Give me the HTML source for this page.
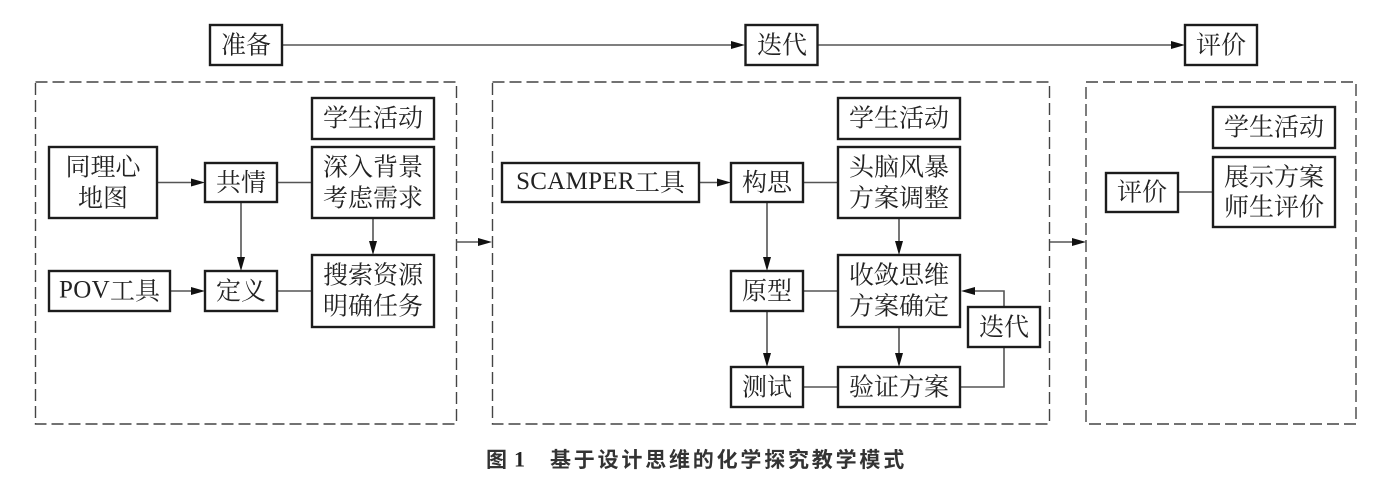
<!DOCTYPE html>
<html lang="zh-CN"><head><meta charset="utf-8"><style>
html,body{margin:0;padding:0;background:#fff;width:1374px;height:490px;overflow:hidden}
svg{display:block}
.b{fill:#fff;stroke:#1c1c1c;stroke-width:2.4}
.l{fill:none;stroke:#555;stroke-width:1.6}
.d{fill:none;stroke:#444;stroke-width:1.4;stroke-dasharray:12 5}
.a{fill:#111}
text{font-family:"Noto Serif CJK SC","Liberation Serif",serif;font-size:25px;fill:#222;text-anchor:middle;dominant-baseline:central;letter-spacing:0;transform:translateY(-1.5px)}
tspan.t{font-family:"Liberation Serif",serif;letter-spacing:.3px}
.c{font-family:"Noto Sans CJK SC","Liberation Sans",sans-serif;font-size:21px;font-weight:bold;fill:#333;text-anchor:start;letter-spacing:2.8px;transform:none}
.n{font-family:"Liberation Serif",serif;font-size:22px;font-weight:bold;fill:#222;text-anchor:start;transform:none}
</style></head><body>
<svg width="1374" height="490" viewBox="0 0 1374 490" xmlns="http://www.w3.org/2000/svg">
<rect class="d" x="35.5" y="82" width="421" height="342"/>
<rect class="d" x="492.5" y="82" width="557" height="342"/>
<rect class="d" x="1086" y="82" width="270" height="342"/>

<path class="l" d="M282 45H735M818 45H1175M456 242H482M1050 242H1076"/>
<path class="l" d="M157 182.500H195M170 291H195M241 202V261M373 218V245M277 182.500H312M277 291H312"/>
<path class="l" d="M699 182.500H721M803 182.500H838M767 202V261M899 218V245M803 291H838M767 311V357M899 327V357M803 387H838M960 387H1004V291H970"/>
<path class="l" d="M1178 192H1213"/>

<path class="a" d="M745 45l-14-4v8zM1185 45l-14-4v8zM492 242l-14-4v8zM1086 242l-14-4v8z"/>
<path class="a" d="M205 182.500l-14-4v8zM205 291l-14-4v8zM241 271l-4-14h8zM373 255l-4-14h8z"/>
<path class="a" d="M731 182.500l-14-4v8zM767 271l-4-14h8zM899 255l-4-14h8zM767 367l-4-14h8zM899 367l-4-14h8zM961 291l14-4v8z"/>

<rect class="b" x="210" y="25" width="72" height="40"/><text x="246" y="45">准备</text>
<rect class="b" x="745.500" y="25" width="72" height="40"/><text x="782" y="45">迭代</text>
<rect class="b" x="1185" y="25" width="72" height="40"/><text x="1221" y="45">评价</text>

<rect class="b" x="312" y="98" width="122" height="41"/><text x="373" y="118">学生活动</text>
<rect class="b" x="312" y="147" width="122" height="71"/><text x="373" y="167">深入背景</text><text x="373" y="198">考虑需求</text>
<rect class="b" x="49" y="147" width="108" height="71"/><text x="103" y="167">同理心</text><text x="103" y="198">地图</text>
<rect class="b" x="205" y="163" width="72" height="39"/><text x="241" y="182.500">共情</text>
<rect class="b" x="49" y="271" width="121" height="40"/><text x="109.500" y="291"><tspan class="t">POV</tspan>工具</text>
<rect class="b" x="205" y="271" width="72" height="40"/><text x="241" y="291">定义</text>
<rect class="b" x="312" y="255" width="122" height="72"/><text x="373" y="275">搜索资源</text><text x="373" y="306">明确任务</text>

<rect class="b" x="502" y="163" width="197" height="39"/><text x="600.500" y="182.500"><tspan class="t">SCAMPER</tspan>工具</text>
<rect class="b" x="731" y="163" width="72" height="39"/><text x="767" y="182.500">构思</text>
<rect class="b" x="838" y="98" width="122" height="41"/><text x="899" y="118">学生活动</text>
<rect class="b" x="838" y="147" width="122" height="71"/><text x="899" y="167">头脑风暴</text><text x="899" y="198">方案调整</text>
<rect class="b" x="731" y="271" width="72" height="40"/><text x="767" y="291">原型</text>
<rect class="b" x="838" y="255" width="122" height="72"/><text x="899" y="275">收敛思维</text><text x="899" y="306">方案确定</text>
<rect class="b" x="731" y="367" width="72" height="40"/><text x="767" y="387">测试</text>
<rect class="b" x="838" y="367" width="122" height="40"/><text x="899" y="387">验证方案</text>
<rect class="b" x="968" y="307" width="72" height="40"/><text x="1004" y="327">迭代</text>

<rect class="b" x="1106" y="173" width="72" height="39"/><text x="1142" y="192">评价</text>
<rect class="b" x="1213" y="107" width="122" height="41"/><text x="1274" y="127">学生活动</text>
<rect class="b" x="1213" y="157" width="122" height="70"/><text x="1274" y="177">展示方案</text><text x="1274" y="207">师生评价</text>

<text class="c" x="486" y="459">图</text>
<text class="n" x="514" y="459">1</text>
<text class="c" x="550" y="459">基于设计思维的化学探究教学模式</text>
</svg>
</body></html>
